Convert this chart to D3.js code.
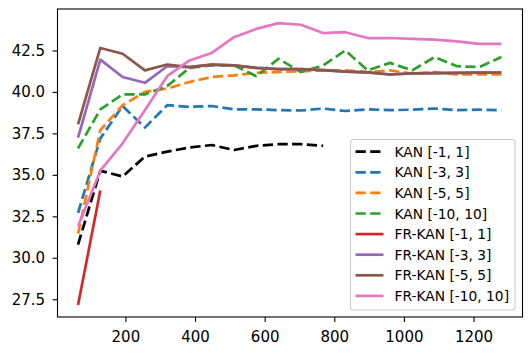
<!DOCTYPE html>
<html>
<head>
<meta charset="utf-8">
<script src="https://cdn.jsdelivr.net/npm/d3@7"></script>
<style>
  body { margin: 0; background: #fff; }
  svg text { font-family: "DejaVu Sans", sans-serif; }
</style>
</head>
<body>
<div id="plot"></div>
<script>
var w = 531;
var h = 355;

// Data (x = training steps, y = accuracy)
var steps = [64, 128, 192, 256, 320, 384, 448, 512, 576, 640, 704, 768, 832, 896, 960, 1024, 1088, 1152, 1216, 1280];

var kan1  = [30.8, 35.25, 34.9, 36.1, 36.4, 36.65, 36.8, 36.5, 36.75, 36.85, 36.85, 36.75];
var kan3  = [32.7, 37.2, 39.15, 37.85, 39.2, 39.1, 39.15, 38.95, 38.95, 38.9, 38.88, 39.0, 38.85, 38.95, 38.9, 38.93, 39.0, 38.9, 38.93, 38.9];
var kan5  = [31.45, 37.7, 39.2, 40.0, 40.2, 40.6, 40.9, 41.0, 41.15, 41.2, 41.25, 41.3, 41.3, 41.2, 41.3, 41.1, 41.2, 41.05, 41.05, 41.05];
var kan10 = [36.6, 38.95, 39.85, 39.85, 40.35, 41.45, 41.6, 41.6, 40.95, 42.0, 41.2, 41.6, 42.5, 41.3, 41.75, 41.3, 42.1, 41.55, 41.5, 42.1];
var fr1   = [27.15, 34.05];
var fr3   = [37.25, 41.95, 40.9, 40.55, 41.55, 41.5, 41.65, 41.6, 41.45, 41.38, 41.38, 41.32, 41.23, 41.18, 41.05, 41.12, 41.13, 41.15, 41.16, 41.17];
var fr5   = [38.05, 42.65, 42.3, 41.3, 41.65, 41.5, 41.65, 41.6, 41.45, 41.38, 41.38, 41.32, 41.23, 41.18, 41.05, 41.12, 41.13, 41.15, 41.16, 41.17];
var fr10  = [31.9, 35.25, 36.9, 38.9, 40.95, 41.9, 42.35, 43.3, 43.8, 44.15, 44.05, 43.55, 43.6, 43.25, 43.25, 43.2, 43.15, 43.05, 42.9, 42.9];

var xTicks = [200, 400, 600, 800, 1000, 1200];
var yTicks = [27.5, 30.0, 32.5, 35.0, 37.5, 40.0, 42.5];

var series = [
  { name: 'KAN [-1, 1]',      values: kan1,  color: '#000000', dashed: true },
  { name: 'KAN [-3, 3]',      values: kan3,  color: '#1f77b4', dashed: true },
  { name: 'KAN [-5, 5]',      values: kan5,  color: '#ff7f0e', dashed: true },
  { name: 'KAN [-10, 10]',    values: kan10, color: '#2ca02c', dashed: true },
  { name: 'FR-KAN [-1, 1]',   values: fr1,   color: '#d62728', dashed: false },
  { name: 'FR-KAN [-3, 3]',   values: fr3,   color: '#9467bd', dashed: false },
  { name: 'FR-KAN [-5, 5]',   values: fr5,   color: '#8c564b', dashed: false },
  { name: 'FR-KAN [-10, 10]', values: fr10,  color: '#e377c2', dashed: false }
];

// plot area
var pLeft = 57.5, pRight = 522.5, pTop = 9, pBottom = 317;
var lw = 2.7;
var dash = '10.3,4.4';

var x = d3.scaleLinear().domain([5, 1340.6]).range([pLeft, pRight]);
var y = d3.scaleLinear().domain([26.43, 45.0]).range([pBottom, pTop]);

var svg = d3.select('#plot').append('svg')
  .attr('width', w)
  .attr('height', h);

svg.append('clipPath').attr('id', 'clip')
  .append('rect')
  .attr('x', pLeft).attr('y', pTop)
  .attr('width', pRight - pLeft).attr('height', pBottom - pTop);

var line = d3.line()
  .x(function (d, i) { return x(steps[i]); })
  .y(function (d) { return y(d); });

// lines
svg.append('g').attr('clip-path', 'url(#clip)')
  .selectAll('path')
  .data(series)
  .enter()
  .append('path')
  .attr('d', function (d) { return line(d.values); })
  .attr('fill', 'none')
  .attr('stroke', function (d) { return d.color; })
  .attr('stroke-width', lw)
  .attr('stroke-linejoin', 'round')
  .attr('stroke-dasharray', function (d) { return d.dashed ? dash : null; });

// axes
var xAxis = d3.axisBottom(x).tickValues(xTicks).tickSize(4.9).tickPadding(9.2).tickSizeOuter(0)
  .tickFormat(d3.format('d'));
var yAxis = d3.axisLeft(y).tickValues(yTicks).tickSize(4.9).tickPadding(7.5).tickSizeOuter(0)
  .tickFormat(d3.format('.1f'));

var gx = svg.append('g').attr('transform', 'translate(0,' + pBottom + ')').call(xAxis);
var gy = svg.append('g').attr('transform', 'translate(' + pLeft + ',0)').call(yAxis);

[gx, gy].forEach(function (g) {
  g.select('.domain').remove();
  g.selectAll('line').attr('stroke', '#000').attr('stroke-width', 1.1);
  g.selectAll('text')
    .attr('fill', '#000')
    .attr('font-size', '15px')
    .attr('font-family', '"DejaVu Sans", sans-serif');
});

// frame
svg.append('rect')
  .attr('x', pLeft).attr('y', pTop)
  .attr('width', pRight - pLeft).attr('height', pBottom - pTop)
  .attr('fill', 'none')
  .attr('stroke', '#000')
  .attr('stroke-width', 1.1);

// legend
var lg = svg.append('g');
lg.append('rect')
  .attr('x', 350.5).attr('y', 139.5)
  .attr('width', 164.5).attr('height', 170.5)
  .attr('rx', 3).attr('ry', 3)
  .attr('fill', 'rgba(255,255,255,0.8)')
  .attr('stroke', '#cccccc')
  .attr('stroke-width', 1.1);

var rows = lg.selectAll('g.row')
  .data(series)
  .enter()
  .append('g')
  .attr('class', 'row')
  .attr('transform', function (d, i) { return 'translate(0,' + (151.7 + i * 20.6) + ')'; });

rows.append('line')
  .attr('x1', 355.5).attr('x2', 383.5)
  .attr('y1', 0).attr('y2', 0)
  .attr('stroke', function (d) { return d.color; })
  .attr('stroke-width', lw)
  .attr('stroke-dasharray', function (d) { return d.dashed ? dash : null; });

rows.append('text')
  .attr('x', 394.5)
  .attr('y', 5)
  .attr('font-size', '13.8px')
  .attr('fill', '#000')
  .text(function (d) { return d.name; });
</script>
</body>
</html>
